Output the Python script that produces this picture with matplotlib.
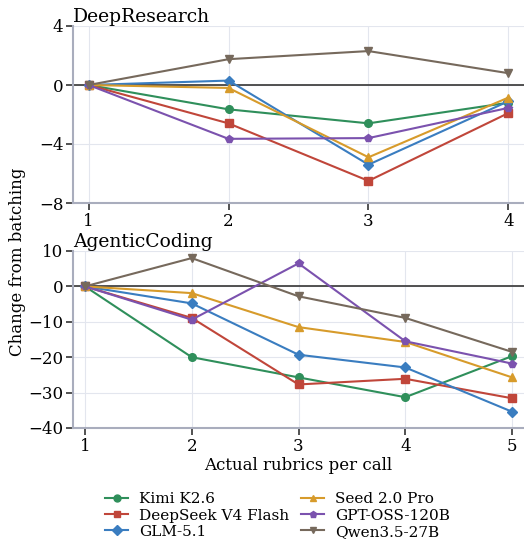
import matplotlib; matplotlib.use("Agg")
import matplotlib.pyplot as plt
from matplotlib.lines import Line2D

plt.rcParams["font.family"] = ["DejaVu Serif"]

MODELS = ["Kimi K2.6", "DeepSeek V4 Flash", "GLM-5.1",
          "Seed 2.0 Pro", "GPT-OSS-120B", "Qwen3.5-27B"]
COLORS = ["#2f8f5b", "#c0463a", "#3a7dc0", "#d79b2b", "#7b52ae", "#76695c"]
MARKERS = ["o", "s", "D", "^", "p", "v"]

DR_X = [1, 2, 3, 4]
DR = {
    "Kimi K2.6":         [0, -1.65, -2.6, -1.2],
    "DeepSeek V4 Flash": [0, -2.6, -6.5, -1.9],
    "GLM-5.1":           [0, 0.3, -5.4, -1.1],
    "Seed 2.0 Pro":      [0, -0.2, -4.9, -0.85],
    "GPT-OSS-120B":      [0, -3.65, -3.6, -1.55],
    "Qwen3.5-27B":       [0, 1.75, 2.3, 0.8],
}
AC_X = [1, 2, 3, 4, 5]
AC = {
    "Kimi K2.6":         [0, -20.0, -25.7, -31.3, -19.7],
    "DeepSeek V4 Flash": [0, -8.9, -27.7, -26.1, -31.6],
    "GLM-5.1":           [0, -4.8, -19.3, -22.9, -35.4],
    "Seed 2.0 Pro":      [0, -1.9, -11.5, -15.7, -25.7],
    "GPT-OSS-120B":      [0, -9.4, 6.5, -15.5, -21.8],
    "Qwen3.5-27B":       [0, 8.0, -2.8, -8.9, -18.5],
}

fig = plt.figure(figsize=(5.24, 5.46), dpi=100)
ax1 = fig.add_axes([73/524, 1-203/546, 451/524, 177/546])
ax2 = fig.add_axes([73/524, 1-428/546, 451/524, 177/546])

def style(ax, title, xs, data, ylim, yticks):
    for m, c, mk in zip(MODELS, COLORS, MARKERS):
        ax.plot(xs, data[m], color=c, marker=mk, ms=5.5, lw=1.5, zorder=3)
    ax.axhline(0, color="#444444", lw=1.3, zorder=2)
    ax.set_ylim(*ylim)
    ax.set_yticks(yticks)
    ax.set_xticks(xs)
    pad = (xs[-1] - xs[0]) * 0.037 if len(xs) == 4 else (xs[-1] - xs[0]) * 0.028
    ax.set_xlim(xs[0] - pad, xs[-1] + pad)
    ax.grid(True, color="#e3e6ee", lw=0.8, zorder=0)
    for s in ["top", "right"]:
        ax.spines[s].set_visible(False)
    for s in ["left", "bottom"]:
        ax.spines[s].set_color("#a9adbd")
        ax.spines[s].set_linewidth(1.5)
    ax.tick_params(labelsize=12, length=5, width=1.2, color="#333333", pad=2)
    ax.set_title(title, loc="left", fontsize=13.5, pad=3)

style(ax1, "DeepResearch", DR_X, DR, (-8, 4), [-8, -4, 0, 4])
style(ax2, "AgenticCoding", AC_X, AC, (-40, 10), [-40, -30, -20, -10, 0, 10])

ax2.set_xlabel("Actual rubrics per call", fontsize=12, labelpad=2)
fig.text(18/524, 1-262/546, "Change from batching", rotation=90,
         ha="center", va="center", fontsize=12)

handles = [Line2D([], [], color=c, marker=mk, ms=5, lw=1.5, label=m)
           for m, c, mk in zip(MODELS, COLORS, MARKERS)]
fig.legend(handles=handles, ncol=2, loc="lower center",
           bbox_to_anchor=(0.53, -0.012), frameon=False, fontsize=11,
           handlelength=1.5, columnspacing=0.8, labelspacing=0.15,
           handletextpad=0.7)

fig.savefig("out.png", dpi=100)
